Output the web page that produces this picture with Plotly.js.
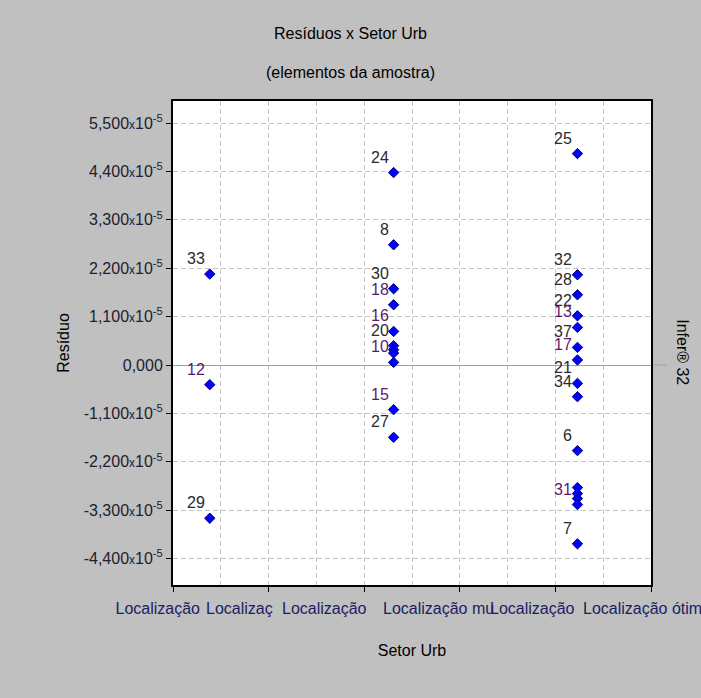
<!DOCTYPE html>
<html>
<head>
<meta charset="utf-8">
<script src="https://cdn.plot.ly/plotly-3.0.1.min.js"></script>
<style>
html,body{margin:0;padding:0;background:#c0c0c0;}
#chart{width:701px;height:698px;}
</style>
</head>
<body>
<div id="chart"></div>
<script>
// ---------------- DATA ----------------
const sectorCodes = [1, 2, 3];
const sectorLabels = ['Localização', 'Localizaç', 'Localização', 'Localização mu', 'Localização', 'Localização ótim'];

const sector1Ids = ['33', '12', '29'];
const sector1Residuals = [2.066e-5, -0.447e-5, -3.483e-5];

const sector2Ids = ['24', '8', '30', '18', '16', '20', '', '', '10', '15', '27'];
const sector2Residuals = [4.374e-5, 2.732e-5, 1.733e-5, 1.369e-5, 0.763e-5, 0.438e-5, 0.347e-5, 0.272e-5, 0.059e-5, -1.015e-5, -1.644e-5];

const sector3Ids = ['25', '32', '28', '22', '13', '37', '17', '21', '34', '6', '', '', '', '31', '7'];
const sector3Residuals = [4.805e-5, 2.051e-5, 1.596e-5, 1.119e-5, 0.854e-5, 0.400e-5, 0.114e-5, -0.418e-5, -0.720e-5, -1.946e-5, -2.786e-5, -2.923e-5, -3.036e-5, -3.172e-5, -4.065e-5];

const yTickMantissas = [-4.4, -3.3, -2.2, -1.1, 0, 1.1, 2.2, 3.3, 4.4, 5.5];
const yTickExponent = -5;

// ---------------- BUILD ----------------
const FONT = 'Arial, "Liberation Sans", sans-serif';
const NAVY = '#1c1c64';
const DARK = '#2a2a2a';
const PURPLE = '#5a1a6e';
const purpleIds = new Set(['12', '18', '16', '10', '15', '13', '17', '31']);

const sectors = [
  {code: sectorCodes[0], ids: sector1Ids, res: sector1Residuals},
  {code: sectorCodes[1], ids: sector2Ids, res: sector2Residuals},
  {code: sectorCodes[2], ids: sector3Ids, res: sector3Residuals}
];

const X_RANGE = [0.8, 3.4];
const PLOT_L = 173, PLOT_R = 651, PLOT_T = 101, PLOT_B = 585;
const px2x = p => X_RANGE[0] + (p - PLOT_L) / (PLOT_R - PLOT_L) * (X_RANGE[1] - X_RANGE[0]);

const traces = sectors.map(s => ({
  type: 'scatter', mode: 'markers',
  x: s.res.map(() => s.code), y: s.res,
  marker: {symbol: 'diamond', size: 8, color: '#0000ff', line: {color: '#000080', width: 1}},
  hoverinfo: 'x+y', showlegend: false, cliponaxis: false
}));
traces.push({type: 'scatter', x: [], y: [], xaxis: 'x2', yaxis: 'y', hoverinfo: 'skip', showlegend: false});
traces.push({type: 'scatter', x: [], y: [], xaxis: 'x3', yaxis: 'y', hoverinfo: 'skip', showlegend: false});

const scale = Math.pow(10, yTickExponent);
const fmtTick = m => {
  if (m === 0) return '0,000';
  const s = m.toFixed(3).replace('.', ',');
  return s + '<span style="font-size:12px">x</span>10<sup>' + yTickExponent + '</sup>';
};

const annotations = [];
sectors.forEach(s => {
  s.ids.forEach((id, i) => {
    if (!id) return;
    annotations.push({
      x: s.code, y: s.res[i], xref: 'x', yref: 'y', text: id, showarrow: false,
      xanchor: 'right', yanchor: 'middle', xshift: -3, yshift: 15.5,
      font: {family: FONT, size: 16, color: purpleIds.has(id) ? PURPLE : DARK}
    });
  });
});
annotations.push({
  text: '(elementos da amostra)', xref: 'paper', yref: 'paper',
  x: (350.5 - PLOT_L) / (PLOT_R - PLOT_L), y: (PLOT_B - 73) / (PLOT_B - PLOT_T),
  xanchor: 'center', yanchor: 'middle', showarrow: false,
  font: {family: FONT, size: 16, color: '#000'}
});
annotations.push({
  text: 'Infer® 32', xref: 'paper', yref: 'paper',
  x: (682.5 - PLOT_L) / (PLOT_R - PLOT_L), y: (PLOT_B - 351.7) / (PLOT_B - PLOT_T),
  xanchor: 'center', yanchor: 'middle', showarrow: false, textangle: 90,
  font: {family: FONT, size: 16, color: '#000'}
});

const grid = {gridcolor: '#c4c4c4', griddash: '5px,3px', gridwidth: 1};
const labelStarts = [206, 282, 383, 490, 583].map(px2x);
const firstLabelEnd = px2x(200);

const labelAxis = {
  overlaying: 'x', side: 'bottom', range: X_RANGE, tickmode: 'array', tickangle: 0,
  ticks: '', showgrid: false, zeroline: false, showline: false,
  automargin: false, fixedrange: true, ticklabeloverflow: 'allow', ticklabelstandoff: 12,
  tickfont: {family: FONT, size: 16, color: NAVY}
};

const layout = {
  width: 701, height: 698,
  paper_bgcolor: '#c0c0c0', plot_bgcolor: '#ffffff',
  margin: {l: PLOT_L, r: 701 - PLOT_R, t: PLOT_T, b: 698 - PLOT_B, pad: 0},
  font: {family: FONT, size: 16, color: '#000'},
  showlegend: false,
  title: {text: 'Resíduos x Setor Urb', x: 0.5, xref: 'container', xanchor: 'center',
          y: 1 - 33 / 698, yref: 'container', yanchor: 'middle',
          font: {family: FONT, size: 16, color: '#000'}},
  xaxis: Object.assign({
    range: X_RANGE, tickmode: 'linear', tick0: 0.8, dtick: 0.52,
    showticklabels: false, ticks: 'outside', ticklen: 5, tickwidth: 1, tickcolor: '#000',
    showgrid: true,
    minor: Object.assign({tick0: 0.8, dtick: 0.26, showgrid: true, ticks: ''}, grid),
    showline: true, linecolor: '#000', linewidth: 2, mirror: true, zeroline: false,
    fixedrange: true, automargin: false,
    title: {text: 'Setor Urb', standoff: 54, font: {family: FONT, size: 16, color: '#000'}}
  }, grid),
  xaxis2: Object.assign({}, labelAxis, {
    tickvals: labelStarts, ticktext: sectorLabels.slice(1), ticklabelposition: 'outside right'
  }),
  xaxis3: Object.assign({}, labelAxis, {
    tickvals: [firstLabelEnd], ticktext: [sectorLabels[0]], ticklabelposition: 'outside left'
  }),
  yaxis: Object.assign({
    range: [-5e-5, 6e-5], tickmode: 'array',
    tickvals: yTickMantissas.map(m => m * scale),
    ticktext: yTickMantissas.map(fmtTick),
    ticks: 'outside', ticklen: 5, tickcolor: '#000', tickwidth: 1,
    showgrid: true, zeroline: true, zerolinecolor: '#a0a0a0', zerolinewidth: 1,
    showline: true, linecolor: '#000', linewidth: 2, mirror: true,
    fixedrange: true, automargin: false,
    tickfont: {family: FONT, size: 16, color: '#202030'},
    title: {text: 'Resíduo', standoff: 10, font: {family: FONT, size: 16, color: '#000'}}
  }, grid),
  shapes: [{
    type: 'line', xref: 'paper', yref: 'y', x0: 1, x1: (667 - PLOT_L) / (PLOT_R - PLOT_L),
    y0: 0, y1: 0, line: {color: '#a0a0a0', width: 1}, layer: 'below'
  }],
  annotations: annotations
};

Plotly.newPlot('chart', traces, layout, {displayModeBar: false, staticPlot: true});
</script>
</body>
</html>
